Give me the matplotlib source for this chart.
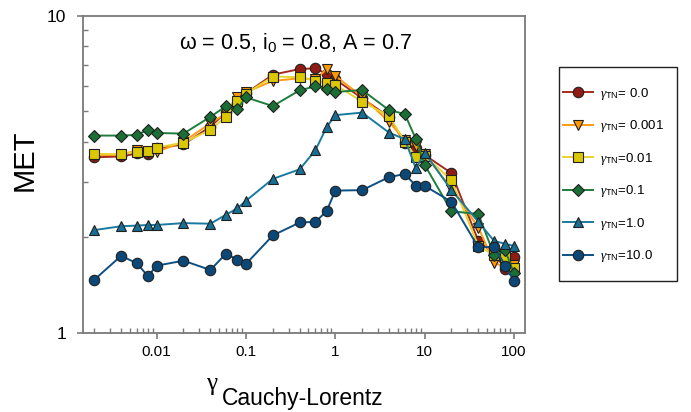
import matplotlib
matplotlib.use("Agg")
import matplotlib.pyplot as plt
from matplotlib.patches import Rectangle
from matplotlib.ticker import LogLocator, NullFormatter, FixedLocator, FixedFormatter

plt.rcParams['font.family'] = ['Liberation Sans', 'DejaVu Sans']
plt.rcParams['mathtext.fontset'] = 'custom'
plt.rcParams['mathtext.rm'] = 'Liberation Sans'
plt.rcParams['mathtext.it'] = 'Liberation Serif:italic'

gamma_cl = [0.002, 0.004, 0.006, 0.008, 0.01, 0.02, 0.04, 0.06, 0.08, 0.1,
            0.2, 0.4, 0.6, 0.8, 1, 2, 4, 6, 8, 10, 20, 40, 60, 80, 100]

met_0 = [3.58, 3.60, 3.68, 3.66, 3.82, 3.93, 4.47, 4.96, 5.30, 5.69,
         6.52, 6.79, 6.83, 6.55, 6.30, 5.49, 4.80, 3.96, 3.82, 3.64,
         3.19, 1.95, 1.78, 1.59, 1.73]
met_0001 = [3.64, 3.64, 3.77, 3.70, 3.72, 4.01, 4.58, 4.92, 5.53, 5.74,
            6.23, 6.35, 6.30, 6.78, 6.46, 5.56, 4.63, 4.06, 3.88, 3.66,
            2.85, 2.15, 1.66, 1.62, 1.64]
met_001 = [3.67, 3.66, 3.73, 3.74, 3.84, 3.98, 4.37, 4.81, 5.40, 5.68,
           6.43, 6.40, 6.24, 6.15, 6.06, 5.36, 4.83, 4.01, 3.59, 3.62,
           3.03, 1.88, 1.76, 1.74, 1.60]
met_01 = [4.19, 4.19, 4.21, 4.37, 4.27, 4.25, 4.80, 5.19, 5.08, 5.53,
          5.19, 5.82, 5.99, 5.86, 5.75, 5.83, 5.04, 4.90, 4.08, 3.39,
          2.42, 2.37, 1.76, 1.82, 1.54]
met_1 = [2.11, 2.17, 2.18, 2.19, 2.19, 2.22, 2.21, 2.36, 2.47, 2.61,
         3.06, 3.28, 3.77, 4.45, 4.86, 4.95, 4.28, 4.08, 3.30, 3.70,
         2.82, 2.24, 1.95, 1.91, 1.88]
met_10 = [1.47, 1.75, 1.66, 1.51, 1.63, 1.69, 1.58, 1.78, 1.70, 1.65,
          2.03, 2.23, 2.24, 2.42, 2.81, 2.82, 3.10, 3.17, 2.91, 2.91,
          2.59, 1.86, 1.87, 1.63, 1.46]

labels = ["= 0.0", "= 0.001", "=0.01", "=0.1", "=1.0", "=10.0"]
series = [met_0, met_0001, met_001, met_01, met_1, met_10]
line_colors = ['#a52a1e', '#ff9a10', '#e8d430', '#1e7d3c', '#1a7aa0', '#0e4f82']
face_colors = ['#8e1c12', '#ff9a00', '#dcc800', '#1b6e34', '#176e94', '#0b4878']
markers = ['o', 'v', 's', 'D', '^', 'o']
msizes = [7.5, 7.5, 7, 6, 7, 7.5]

fig = plt.figure(figsize=(6.91, 4.12), dpi=100)
ax = fig.add_axes([83/691, 1-333/412, 442/691, (333-15.7)/412])

for y, lab, lc, fc, m, ms in zip(series, labels, line_colors, face_colors, markers, msizes):
    ax.plot(gamma_cl, y, color=lc, lw=1.4, marker=m, markersize=ms,
            markerfacecolor=fc, markeredgecolor='#202020', markeredgewidth=0.8,
            label=r"$\gamma_{\mathregular{TN}}$" + lab)

ax.set_xscale('log')
ax.set_yscale('log')
ax.set_xlim(0.0015, 133)
ax.set_ylim(1, 10)

gray = '#7a7a7a'
for s in ax.spines.values():
    s.set_color(gray)
    s.set_linewidth(1.3)

ax.xaxis.set_major_locator(FixedLocator([0.01, 0.1, 1, 10, 100]))
ax.xaxis.set_major_formatter(FixedFormatter(['0.01', '0.1', '1', '10', '100']))
ax.xaxis.set_minor_locator(LogLocator(base=10, subs=range(2, 10), numticks=20))
ax.xaxis.set_minor_formatter(NullFormatter())
ax.yaxis.set_major_locator(FixedLocator([1, 10]))
ax.yaxis.set_major_formatter(FixedFormatter(['1', '10']))
ax.yaxis.set_minor_locator(LogLocator(base=10, subs=range(2, 10), numticks=20))
ax.yaxis.set_minor_formatter(NullFormatter())

ax.tick_params(axis='x', which='major', direction='out', length=4, width=1.2,
               color=gray, labelsize=11, pad=5)
ax.tick_params(axis='y', which='major', direction='out', length=4, width=1.2,
               color=gray, labelsize=12.5, pad=8)
ax.tick_params(which='minor', direction='in', length=3.5, width=1.0, color=gray)

ax.text(0.48, 0.917, r"ω = 0.5, i$_0$ = 0.8, A = 0.7", transform=ax.transAxes,
        ha='center', va='center', fontsize=15.5)

fig.text(25/691, 1-160/412, "MET", rotation=90, ha='center', va='center', fontsize=21)
fig.text(212/691, 1-384/412, "γ", ha='center', va='center', fontsize=18,
         family='Liberation Serif')
fig.text(222/691, 1-399/412, "Cauchy-Lorentz", ha='left', va='center', fontsize=16.5)

# legend frame drawn separately, legend placed inside
fig.patches.append(Rectangle((559/691, 1-281/412), (677-559)/691, (281-66.7)/412,
                             transform=fig.transFigure, fill=False,
                             edgecolor='#202020', linewidth=1.0))
leg = fig.legend(loc='center left', bbox_to_anchor=(563/691, 1-175/412),
                 fontsize=9.5, frameon=False,
                 handlelength=2.3, handletextpad=0.5, labelspacing=1.25,
                 borderpad=0, borderaxespad=0)

fig.savefig("out.png", dpi=100)
